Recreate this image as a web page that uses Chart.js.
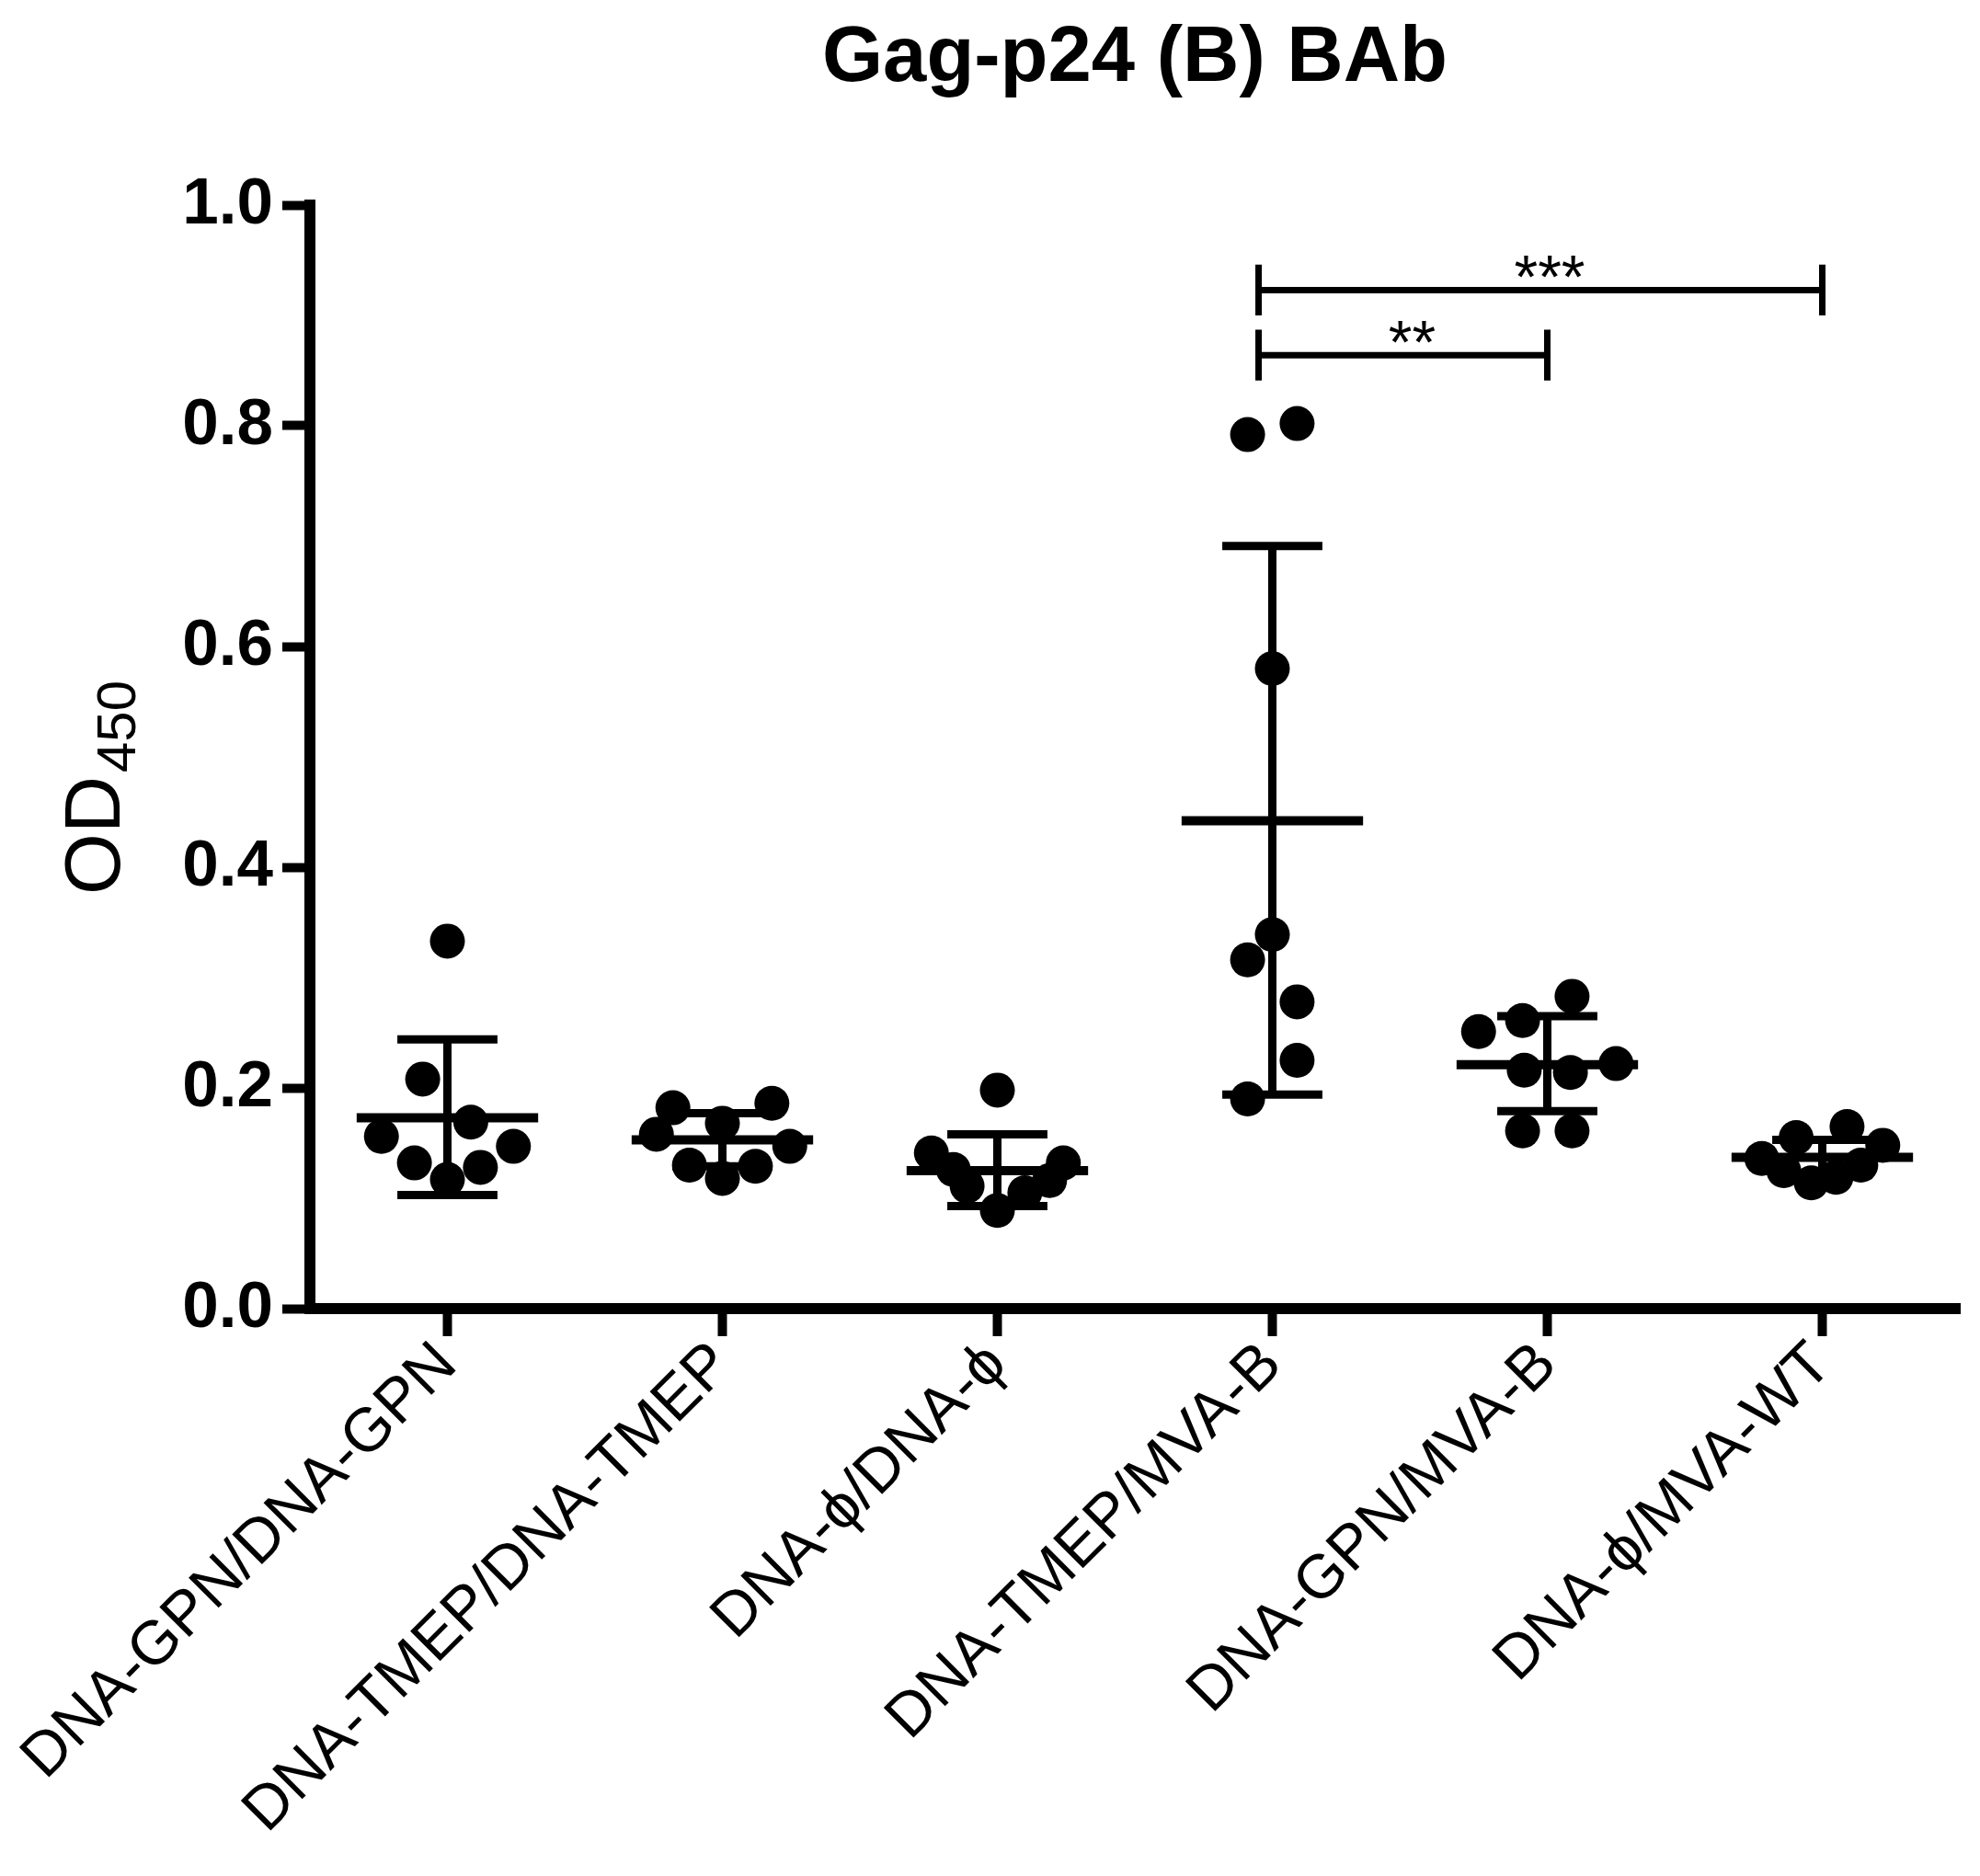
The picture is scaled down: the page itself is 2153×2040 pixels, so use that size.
<!DOCTYPE html>
<html>
<head>
<meta charset="utf-8">
<script src="https://cdn.jsdelivr.net/npm/chart.js@4.4.1/dist/chart.umd.min.js"></script>
<style>
  body { margin: 0; background: #fff; }
</style>
</head>
<body>
<canvas id="od" width="2153" height="2040"></canvas>
<script>
// groups along the x axis
const groups = ['DNA-GPN/DNA-GPN', 'DNA-TMEP/DNA-TMEP', 'DNA-ϕ/DNA-ϕ', 'DNA-TMEP/MVA-B', 'DNA-GPN/MVA-B', 'DNA-ϕ/MVA-WT']

// OD450 per animal
const gpnGpn   = [0.333, 0.208, 0.169, 0.156, 0.147, 0.132, 0.128, 0.117]
const tmepTmep = [0.182, 0.158, 0.186, 0.147, 0.130, 0.129, 0.118, 0.168]
const phiPhi   = [0.198, 0.141, 0.126, 0.111, 0.089, 0.105, 0.116, 0.132]
const tmepMva  = [0.802, 0.792, 0.580, 0.339, 0.316, 0.278, 0.225, 0.190]
const gpnMva   = [0.283, 0.261, 0.251, 0.216, 0.214, 0.222, 0.161, 0.161]
const phiMvaWt = [0.165, 0.155, 0.148, 0.136, 0.125, 0.114, 0.119, 0.130]

// mean and error bar ends (mean +/- SD)
const means   = [0.173, 0.153, 0.125, 0.442, 0.221, 0.137]
const errHigh = [0.244, 0.177, 0.158, 0.691, 0.265, 0.153]
const errLow  = [0.103, 0.129, 0.093, 0.194, 0.179, 0.121]

const yTicks = [0, 0.2, 0.4, 0.6, 0.8, 1.0]

// significance brackets
const sigFrom   = [3, 3]
const sigTo     = [4, 5]
const sigLevel  = [0.864, 0.923]
const sigLabels = ['**', '***']

// horizontal scatter of the dots (in category widths)
const jitter = [
  [0, -0.09, 0.085, -0.24, 0.24, -0.12, 0.12, 0],
  [-0.18, -0.24, 0.18, 0.245, -0.12, 0.12, 0, 0],
  [0, -0.24, -0.16, -0.11, 0, 0.10, 0.19, 0.24],
  [0.09, -0.09, 0, 0, -0.09, 0.09, 0.09, -0.09],
  [0.09, -0.09, -0.25, -0.084, 0.084, 0.25, -0.09, 0.09],
  [0.09, -0.095, 0.22, -0.22, -0.14, -0.04, 0.05, 0.14]
]

const allValues = [gpnGpn, tmepTmep, phiPhi, tmepMva, gpnMva, phiMvaWt]

const FONT = '"Liberation Sans", Arial, sans-serif'
const meanHalf = 0.33, capHalf = 0.167, sigTick = 0.023

let dots = []
allValues.forEach((vals, g) => {
  vals.forEach((v, k) => dots.push({ x: g + jitter[g][k], y: v }))
})

let meanLines = [], errLines = []
means.forEach((m, g) => {
  meanLines.push({ x: g - meanHalf, y: m }, { x: g + meanHalf, y: m }, { x: g, y: null })
  errLines.push({ x: g, y: errLow[g] }, { x: g, y: errHigh[g] }, { x: g, y: null })
  errLines.push({ x: g - capHalf, y: errHigh[g] }, { x: g + capHalf, y: errHigh[g] }, { x: g, y: null })
  errLines.push({ x: g - capHalf, y: errLow[g] }, { x: g + capHalf, y: errLow[g] }, { x: g, y: null })
})

let brackets = []
sigLevel.forEach((lv, i) => {
  const a = sigFrom[i] - 0.05, b = sigTo[i]
  brackets.push({ x: a, y: lv }, { x: b, y: lv }, { x: a, y: null })
  brackets.push({ x: a, y: lv - sigTick }, { x: a, y: lv + sigTick }, { x: a, y: null })
  brackets.push({ x: b, y: lv - sigTick }, { x: b, y: lv + sigTick }, { x: b, y: null })
})

// stars above the brackets + OD450 axis title with subscript
const extras = {
  id: 'extras',
  afterDatasetsDraw(chart) {
    const ctx = chart.ctx, xs = chart.scales.x, ys = chart.scales.y
    ctx.save()
    ctx.fillStyle = '#000'
    ctx.font = '66px ' + FONT
    ctx.textAlign = 'center'
    ctx.textBaseline = 'alphabetic'
    sigLabels.forEach((lab, i) => {
      const mid = xs.getPixelForValue((sigFrom[i] - 0.05 + sigTo[i]) / 2) + 10
      const m = ctx.measureText(lab)
      const centre = ys.getPixelForValue(sigLevel[i]) - 25
      ctx.fillText(lab, mid, centre + (m.actualBoundingBoxAscent - m.actualBoundingBoxDescent) / 2)
    })

    const area = chart.chartArea
    ctx.translate(area.left - 207, (area.top + area.bottom) / 2 + 150)
    ctx.rotate(-Math.PI / 2)
    ctx.textAlign = 'left'
    ctx.font = '86px ' + FONT
    ctx.fillText('OD', 0, 0)
    const w = ctx.measureText('OD').width
    ctx.font = '60px ' + FONT
    ctx.fillText('450', w + 4, 17)
    ctx.restore()
  }
}

const od = document.getElementById('od')

new Chart(od, {
  type: 'scatter',
  data: {
    datasets: [
      {
        data: meanLines, type: 'line', showLine: true, spanGaps: false,
        borderColor: '#000', borderWidth: 10, pointRadius: 0, borderCapStyle: 'butt'
      },
      {
        data: errLines, type: 'line', showLine: true, spanGaps: false,
        borderColor: '#000', borderWidth: 9, pointRadius: 0, borderCapStyle: 'square'
      },
      {
        data: brackets, type: 'line', showLine: true, spanGaps: false,
        borderColor: '#000', borderWidth: 7, pointRadius: 0, borderCapStyle: 'butt'
      },
      {
        data: dots, backgroundColor: '#000', borderColor: '#000',
        pointRadius: 19, borderWidth: 0
      }
    ]
  },
  options: {
    responsive: false,
    animation: false,
    devicePixelRatio: 1,
    layout: { padding: { top: 0, right: 22, bottom: 0, left: 0 } },
    plugins: {
      legend: { display: false },
      tooltip: { enabled: false },
      title: {
        display: true,
        text: 'Gag-p24 (B) BAb',
        fullSize: false,
        color: '#000',
        font: { family: FONT, size: 85, weight: 'bold' },
        padding: { top: 14, bottom: 107 }
      }
    },
    scales: {
      x: {
        type: 'linear',
        min: -0.5,
        max: 5.5,
        afterBuildTicks: s => { s.ticks = groups.map((g, i) => ({ value: i })) },
        afterFit: s => { s.height = 617; s.paddingLeft = 0; s.paddingRight = 0 },
        grid: { drawOnChartArea: false, tickLength: 30, tickWidth: 10, tickColor: '#000' },
        border: { color: '#000', width: 12 },
        ticks: {
          autoSkip: false,
          minRotation: 45,
          maxRotation: 45,
          padding: -8,
          color: '#000',
          font: { family: FONT, size: 67 },
          callback: v => groups[v]
        }
      },
      y: {
        min: 0,
        max: 1,
        afterBuildTicks: s => { s.ticks = yTicks.map(v => ({ value: v })) },
        afterFit: s => { s.width = 337 },
        grid: { drawOnChartArea: false, tickLength: 30, tickWidth: 10, tickColor: '#000' },
        border: { color: '#000', width: 12 },
        ticks: {
          padding: 10,
          color: '#000',
          font: { family: FONT, size: 71, weight: 'bold' },
          callback: v => v.toFixed(1)
        }
      }
    }
  },
  plugins: [extras]
});
</script>
</body>
</html>
